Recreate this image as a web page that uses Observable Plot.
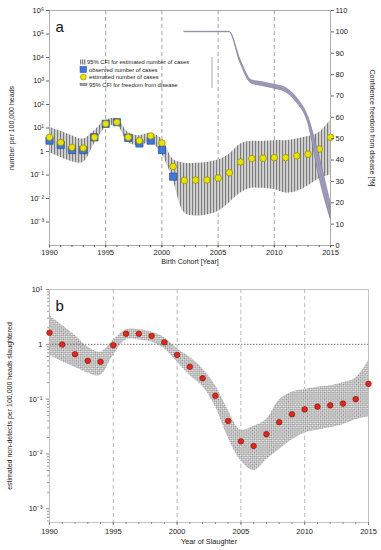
<!DOCTYPE html>
<html><head><meta charset="utf-8">
<script src="https://cdn.jsdelivr.net/npm/d3@7"></script>
<script src="https://cdn.jsdelivr.net/npm/@observablehq/plot@0.6"></script>
<style>
body{margin:0;background:#fff;font-family:"Liberation Sans",Arial,sans-serif;}
#wrap{position:relative;width:381px;height:550px;overflow:hidden;}
#wrap svg{position:absolute;left:0;}
</style></head><body><div id="wrap"></div>
<script>
// ---------- data ----------
const years = [1990,1991,1992,1993,1994,1995,1996,1997,1998,1999,2000,2001,2002,2003,2004,2005,2006,2007,2008,2009,2010,2011,2012,2013,2014,2015];
// panel a: estimated cases (yellow) and 95% CFI
const estA = [4.0,2.4,1.5,1.4,4.0,15,17.6,4.0,2.9,4.6,2.3,0.23,0.059,0.061,0.061,0.074,0.126,0.36,0.5,0.52,0.55,0.55,0.65,0.77,1.27,4.0];
const hiA  = [10.7,7.2,4.7,3.4,7.7,21,24.6,6.5,4.7,5.9,3.4,0.47,0.32,0.32,0.34,0.43,0.77,2.1,2.7,2.7,2.9,2.9,3.4,4.3,6.5,21];
const loA  = [0.9,0.55,0.37,0.34,2.1,10,12.7,2.4,1.76,2.4,0.77,0.06,0.0025,0.0018,0.002,0.0028,0.0065,0.017,0.027,0.027,0.024,0.017,0.02,0.034,0.07,0.1];
// panel a: observed cases (blue)
const obsYears = [1990,1991,1992,1993,1994,1995,1996,1997,1998,1999,2000,2001];
const obsA = [2.9,1.9,1.15,1.15,4.0,15,17.6,3.8,2.2,2.9,1.15,0.085];
// panel a: confidence of freedom from disease [%]
const freeYears = [2002,2003,2004,2005,2006,2007,2008,2009,2010,2011,2012,2013,2014,2015];
const freeMid = [100,100,100,100,100,86,76.5,75.5,74.3,72.8,68,59,37,15];
const freeLo  = [100,100,100,100,100,85.2,75.7,74.6,73.4,71.8,66.8,57.5,32,12.5];
const freeHi  = [100,100,100,100,100,86.8,77.3,76.4,75.2,73.8,69.2,60.5,42,20];
// panel b: estimated non-detects and 95% CFI
const estB = [1.63,0.99,0.66,0.50,0.48,0.96,1.56,1.56,1.42,1.09,0.64,0.39,0.24,0.115,0.04,0.017,0.014,0.023,0.038,0.053,0.065,0.073,0.077,0.083,0.10,0.19];
const hiB  = [3.4,2.2,1.46,0.89,0.72,1.18,1.85,1.85,1.67,1.32,0.83,0.58,0.36,0.18,0.063,0.027,0.032,0.042,0.096,0.134,0.15,0.165,0.175,0.2,0.24,0.5];
const loB  = [0.63,0.48,0.38,0.30,0.27,0.63,1.2,1.2,1.1,0.83,0.48,0.27,0.17,0.073,0.02,0.0075,0.005,0.0078,0.012,0.018,0.024,0.027,0.03,0.034,0.042,0.047];
// ticks
const labelYears = [1990,1995,2000,2005,2010,2015];
const gridYears = [1995,2000,2005,2010];
const decadesA = [1e-3,1e-2,1e-1,1,1e1,1e2,1e3,1e4,1e5,1e6];
const decadesB = [1e-3,1e-2,1e-1,1,1e1];
const rightTicks = [0,10,20,30,40,50,60,70,80,90,100,110];
const minorMult = [2,3,4,5,6,7,8,9];
const legendLabels = ["95% CFI for estimated number of cases","observed number of cases","estimated number of cases","95% CFI for freedom from disease"];

// ---------- tables ----------
const tableA = years.map((year,i)=>({year, est:estA[i], hi:hiA[i], lo:loA[i]}));
const tableObs = obsYears.map((year,i)=>({year, v:obsA[i]}));
const tableFree = freeYears.map((year,i)=>({year, mid:freeMid[i], lo:freeLo[i], hi:freeHi[i]}));
const tableB = years.map((year,i)=>({year, est:estB[i], hi:hiB[i], lo:loB[i]}));
const minorB = [1e-4,1e-3,1e-2,1e-1,1].flatMap(d=>minorMult.map(m=>d*m)).filter(v=>v>10**-3.25 && v<10);

const sup = {"0":"⁰","1":"¹","2":"²","3":"³","4":"⁴","5":"⁵","6":"⁶","7":"⁷","8":"⁸","9":"⁹","-":"⁻"};
const fmtLog = v => { const e = Math.round(Math.log10(v)); return e===0 ? "1" : "10" + String(e).split("").map(c=>sup[c]).join(""); };
const font = "Liberation Sans, Arial, Helvetica, sans-serif";
const wrap = document.getElementById("wrap");

// ---------- panel a (left log axis) ----------
const A = Plot.plot({
  width:381, height:275, marginTop:10, marginLeft:49, marginRight:51, marginBottom:30,
  style:{fontFamily:font, fontSize:"7px", background:"transparent", color:"#222"},
  x:{domain:[1990,2015], label:null},
  y:{type:"log", domain:[1e-4,1e6], label:null},
  marks:[
    Plot.ruleX(gridYears, {stroke:"#8a8a8a", strokeDasharray:"4,3", strokeWidth:0.8}),
    Plot.areaY(tableA, {x:"year", y1:"lo", y2:"hi", fill:"url(#stripesA)", curve:"catmull-rom"}),
    Plot.frame({stroke:"#9a9a9a", strokeWidth:0.8}),
    Plot.axisX(years, {tickSize:2, tickFormat:()=>"", stroke:"#666", label:null}),
    Plot.axisX(labelYears, {tickSize:2.5, tickPadding:1.5, tickFormat:d=>String(d), stroke:"#666", label:null, fontSize:7.5}),
    Plot.axisY(decadesA, {tickSize:3, tickPadding:2.5, tickFormat:fmtLog, stroke:"#666", label:null, fontSize:7.5}),
    Plot.dot(tableObs, {x:"year", y:"v", symbol:"square", r:4.1, fill:"#3f78dc", stroke:"#24408a", strokeWidth:0.6}),
    Plot.dot(tableA, {x:"year", y:"est", r:3.3, fill:"#e8e200", stroke:"#7c7a00", strokeWidth:0.6}),
    Plot.text(["a"], {frameAnchor:"top-left", dx:6, dy:11, fontSize:15, fill:"#111"}),
    Plot.text(["Birth Cohort [Year]"], {frameAnchor:"bottom", dy:18, fontSize:7}),
    Plot.text(["number per 100,000 heads"], {frameAnchor:"left", textAnchor:"middle", dx:-38, rotate:-90, fontSize:7})
  ]
});
// ---------- panel a overlay (right linear axis) ----------
const A2 = Plot.plot({
  width:381, height:275, marginTop:10, marginLeft:49, marginRight:51, marginBottom:30,
  style:{fontFamily:font, fontSize:"7.5px", background:"transparent", color:"#222"},
  x:{domain:[1990,2015], label:null, axis:null},
  y:{domain:[0,110], label:null},
  marks:[
    Plot.areaY(tableFree, {x:"year", y1:"lo", y2:"hi", fill:"#a19dbf", stroke:"#7a778c", strokeWidth:0.6, curve:"monotone-x"}),
    Plot.line(tableFree, {x:"year", y:"mid", stroke:"#8a86a8", strokeWidth:0.5, curve:"monotone-x"}),
    Plot.axisY(rightTicks, {anchor:"right", tickSize:3, tickPadding:2, stroke:"#666", label:null}),
    Plot.text(["Confidence freedom from disease [%]"], {frameAnchor:"right", textAnchor:"middle", dx:42, rotate:90, fontSize:7})
  ]
});
// ---------- panel b ----------
const B = Plot.plot({
  width:381, height:275, marginTop:14, marginLeft:49, marginRight:13, marginBottom:28,
  style:{fontFamily:font, fontSize:"7.5px", background:"transparent", color:"#222"},
  x:{domain:[1990,2015], label:null},
  y:{type:"log", domain:[10**-3.25,10], label:null},
  marks:[
    Plot.ruleX(gridYears, {stroke:"#a8a8a8", strokeDasharray:"4,3", strokeWidth:0.8}),
    Plot.areaY(tableB, {x:"year", y1:"lo", y2:"hi", fill:"url(#hatchB)", curve:"catmull-rom"}),
    Plot.ruleY([1], {stroke:"#555", strokeDasharray:"1.5,1.5", strokeWidth:0.8}),
    Plot.frame({stroke:"#b5b5b5", strokeWidth:0.8}),
    Plot.axisX(years, {tickSize:2, tickFormat:()=>"", stroke:"#888", label:null}),
    Plot.axisX(labelYears, {tickSize:3, tickPadding:3, tickFormat:d=>String(d), stroke:"#888", label:null}),
    Plot.axisY(minorB, {tickSize:2, tickFormat:()=>"", stroke:"#999", label:null}),
    Plot.axisY(decadesB, {tickSize:3, tickPadding:4, tickFormat:fmtLog, stroke:"#888", label:null}),
    Plot.dot(tableB, {x:"year", y:"est", r:2.8, fill:"#e3271b", stroke:"#7a1510", strokeWidth:0.6}),
    Plot.text(["b"], {frameAnchor:"top-left", dx:6, dy:10.5, fontSize:15, fill:"#111"}),
    Plot.text(["Year of Slaughter"], {frameAnchor:"bottom", dy:21, fontSize:7.3}),
    Plot.text(["estimated non-detects per 100,000 heads slaughtered"], {frameAnchor:"left", textAnchor:"middle", dx:-40, rotate:-90, fontSize:7})
  ]
});

A.style.top = "0px"; A2.style.top = "0px"; B.style.top = "275px";
wrap.appendChild(A); wrap.appendChild(A2); wrap.appendChild(B);

// patterns
const dA = d3.select(A).insert("defs", ":first-child");
const pA = dA.append("pattern").attr("id","stripesA").attr("patternUnits","userSpaceOnUse").attr("width",3).attr("height",10);
pA.append("rect").attr("width",3).attr("height",10).attr("fill","#d2d2d2");
pA.append("rect").attr("width",1.1).attr("height",10).attr("fill","#7c7c7c");
const dB = d3.select(B).insert("defs", ":first-child");
const pB = dB.append("pattern").attr("id","hatchB").attr("patternUnits","userSpaceOnUse").attr("width",3).attr("height",3).attr("patternTransform","rotate(45)");
pB.append("rect").attr("width",3).attr("height",3).attr("fill","#f4f4f4");
pB.append("rect").attr("width",1.5).attr("height",1.5).attr("fill","#8c8c8c");
pB.append("rect").attr("x",1.5).attr("y",1.5).attr("width",1.5).attr("height",1.5).attr("fill","#8c8c8c");

// legend for panel a
const L = d3.select(wrap).append("svg").attr("width",381).attr("height",275).style("top","0px")
  .style("font-family",font).style("font-size","5.8px");
const rows = [62, 69.5, 77, 84.5];
const lg = L.append("g");
const lgDefs = L.append("defs");
const pL = lgDefs.append("pattern").attr("id","stripesL").attr("patternUnits","userSpaceOnUse").attr("width",2).attr("height",10);
pL.append("rect").attr("width",2).attr("height",10).attr("fill","#d0d0d0");
pL.append("rect").attr("width",0.8).attr("height",10).attr("fill","#777");
lg.append("rect").attr("x",80).attr("y",rows[0]-2.5).attr("width",6).attr("height",5).attr("fill","url(#stripesL)");
lg.append("rect").attr("x",80).attr("y",rows[1]-3).attr("width",6.5).attr("height",6).attr("fill","#3f78dc").attr("stroke","#24408a").attr("stroke-width",0.5);
lg.append("circle").attr("cx",83.3).attr("cy",rows[2]).attr("r",3).attr("fill","#e8e200").attr("stroke","#7c7a00").attr("stroke-width",0.5);
lg.append("rect").attr("x",80).attr("y",rows[3]-1.2).attr("width",7).attr("height",2.4).attr("fill","#a19dbf").attr("stroke","#666").attr("stroke-width",0.5);
legendLabels.forEach((t,i)=>{
  lg.append("text").attr("x", i===0 ? 87 : 89).attr("y",rows[i]).attr("dy","0.35em").attr("fill","#222").text(t);
});
lg.append("line").attr("x1",212).attr("x2",212).attr("y1",57).attr("y2",88).attr("stroke","#888").attr("stroke-width",0.7);
</script></body></html>
